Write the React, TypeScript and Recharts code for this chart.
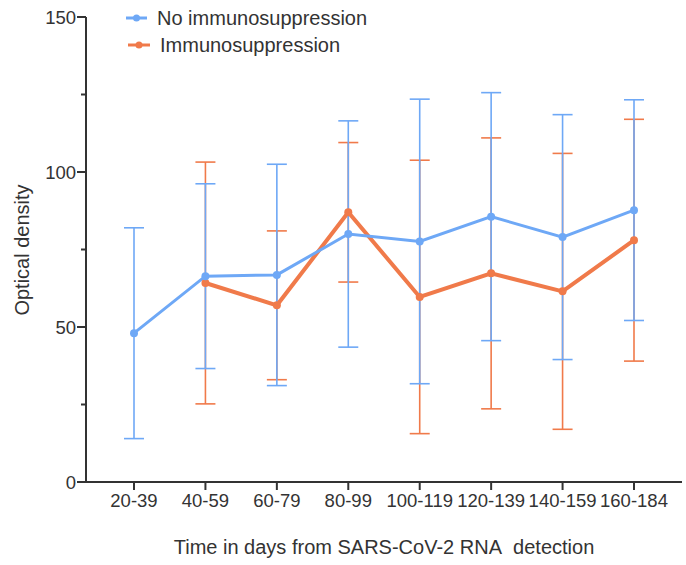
import React from "react";
import { LineChart, Line, XAxis, YAxis, ErrorBar } from "recharts";

// Time windows (days since first positive SARS-CoV-2 RNA test)
const categories = ["20-39", "40-59", "60-79", "80-99", "100-119", "120-139", "140-159", "160-184"];

// Mean optical density and SD
const noImmMean = [48, 66.4, 66.8, 80, 77.6, 85.6, 79, 87.7];
const noImmSd = [34, 29.8, 35.7, 36.5, 45.9, 40, 39.5, 35.6];
const immMean = [null, 64.2, 57, 87, 59.7, 67.3, 61.5, 78];
const immSd = [null, 39, 24, 22.5, 44.1, 43.7, 44.5, 39];

const yTicks = [0, 25, 50, 75, 100, 125, 150];
const yLabelled = [0, 50, 100, 150];

const BLUE = "#6ea8f6";
const ORANGE = "#f07a4a";
const AXIS = "#333333";
const FONT = '"Liberation Sans", Arial, Helvetica, sans-serif';

const data = categories.map((group, i) => ({
  group,
  noImm: noImmMean[i],
  noImmErr: noImmSd[i],
  imm: immMean[i],
  immErr: immSd[i],
}));

function YTick({ x, y, payload }: any) {
  const major = yLabelled.includes(payload.value);
  return (
    <g>
      <line x1={major ? x - 1 : x + 3} x2={x + 8} y1={y} y2={y} stroke={AXIS} strokeWidth={2} />
      {major && (
        <text x={x - 2} y={y} textAnchor="end" dominantBaseline="central" fontSize={18.5} fill={AXIS} fontFamily={FONT}>
          {payload.value}
        </text>
      )}
    </g>
  );
}

function LegendBox() {
  const items = [
    { label: "No immunosuppression", color: BLUE, y: 18, x0: 126, x1: 147, tx: 157 },
    { label: "Immunosuppression", color: ORANGE, y: 45, x0: 128, x1: 150, tx: 160 },
  ];
  return (
    <svg width={400} height={60} style={{ position: "absolute", left: 0, top: 0 }}>
      {items.map((it) => (
        <g key={it.label}>
          <line x1={it.x0} x2={it.x1} y1={it.y} y2={it.y} stroke={it.color} strokeWidth={3} />
          <circle cx={(it.x0 + it.x1) / 2} cy={it.y} r={3.5} fill={it.color} />
          <text x={it.tx} y={it.y} dominantBaseline="central" fontSize={20} fill={AXIS} fontFamily={FONT}>
            {it.label}
          </text>
        </g>
      ))}
    </svg>
  );
}

export default function App() {
  return (
    <div style={{ position: "absolute", left: 0, top: 0, width: 686, height: 565, background: "#fff" }}>
      <LineChart
        width={686}
        height={565}
        data={data}
        margin={{ top: 17, right: 4, bottom: 0, left: 0 }}
        style={{ fontFamily: FONT }}
      >
        <XAxis
          dataKey="group"
          type="category"
          scale="point"
          padding={{ left: 48, right: 48 }}
          height={83}
          interval={0}
          axisLine={{ stroke: AXIS, strokeWidth: 2 }}
          tickLine={{ stroke: AXIS, strokeWidth: 2 }}
          tickSize={8}
          tickMargin={4}
          tick={{ fill: AXIS, fontSize: 18.5, fontFamily: FONT }}
          label={{
            content: () => (
              <text x={384} y={547} textAnchor="middle" dominantBaseline="central" fontSize={20} fill={AXIS} fontFamily={FONT}>
                Time in days from SARS-CoV-2 RNA{"\u00a0\u00a0"}detection
              </text>
            ),
          }}
        />
        <YAxis
          type="number"
          domain={[0, 150]}
          ticks={yTicks}
          interval={0}
          width={86}
          axisLine={{ stroke: AXIS, strokeWidth: 2 }}
          tickLine={false}
          tickSize={8}
          tickMargin={0}
          tick={<YTick />}
          label={{
            content: () => (
              <text
                x={22}
                y={250}
                transform="rotate(-90 22 250)"
                textAnchor="middle"
                dominantBaseline="central"
                fontSize={20}
                fill={AXIS}
                fontFamily={FONT}
              >
                Optical density
              </text>
            ),
          }}
        />
        <Line
          dataKey="imm"
          name="Immunosuppression"
          stroke={ORANGE}
          strokeWidth={4}
          dot={{ r: 4, fill: ORANGE, stroke: ORANGE, strokeWidth: 0 }}
          isAnimationActive={false}
        >
          <ErrorBar dataKey="immErr" width={10} stroke={ORANGE} strokeWidth={1.6} direction="y" />
        </Line>
        <Line
          dataKey="noImm"
          name="No immunosuppression"
          stroke={BLUE}
          strokeWidth={3}
          dot={{ r: 4, fill: BLUE, stroke: BLUE, strokeWidth: 0 }}
          isAnimationActive={false}
        >
          <ErrorBar dataKey="noImmErr" width={10} stroke={BLUE} strokeWidth={1.6} direction="y" />
        </Line>
      </LineChart>
      <LegendBox />
    </div>
  );
}
